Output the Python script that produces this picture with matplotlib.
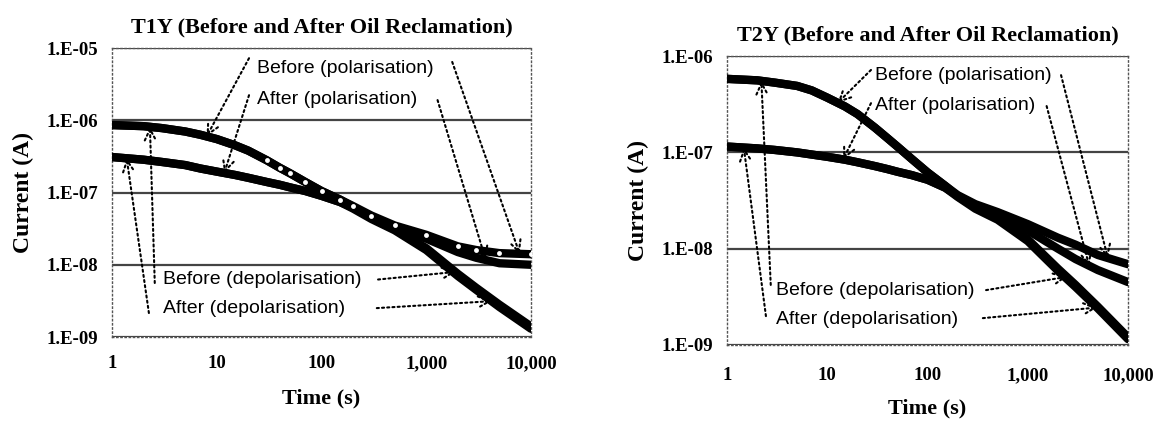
import matplotlib
matplotlib.use("Agg")
import matplotlib.pyplot as plt
import numpy as np
from matplotlib.ticker import FixedLocator, NullLocator

# 时间采样点 (s)
times = [1, 2, 3, 5, 7, 10, 15, 20, 30, 40, 50, 70, 100, 150, 200, 300, 500,
         1000, 2000, 3000, 5000, 10000]

# T1Y 电流 (A)
t1_before_pol = [8.6e-7, 8.3e-7, 7.8e-7, 7.0e-7, 6.3e-7, 5.5e-7, 4.5e-7, 3.8e-7, 2.8e-7,
                 2.2e-7, 1.85e-7, 1.4e-7, 1.05e-7, 8.0e-8, 6.5e-8, 4.8e-8, 3.5e-8,
                 2.6e-8, 1.8e-8, 1.6e-8, 1.45e-8, 1.4e-8]
t1_after_pol = [3.1e-7, 2.85e-7, 2.65e-7, 2.4e-7, 2.15e-7, 1.95e-7, 1.75e-7, 1.6e-7, 1.4e-7,
                1.28e-7, 1.18e-7, 1.05e-7, 9.0e-8, 7.4e-8, 6.2e-8, 4.6e-8, 3.2e-8,
                2.3e-8, 1.5e-8, 1.25e-8, 1.05e-8, 1.0e-8]
t1_before_depol = [8.6e-7, 8.3e-7, 7.8e-7, 7.0e-7, 6.3e-7, 5.5e-7, 4.5e-7, 3.8e-7, 2.8e-7,
                   2.2e-7, 1.85e-7, 1.4e-7, 1.05e-7, 8.0e-8, 6.3e-8, 4.5e-8, 3.1e-8,
                   1.7e-8, 7.5e-9, 4.8e-9, 2.8e-9, 1.4e-9]
t1_after_depol = [3.1e-7, 2.85e-7, 2.65e-7, 2.4e-7, 2.15e-7, 1.95e-7, 1.75e-7, 1.6e-7, 1.4e-7,
                  1.28e-7, 1.18e-7, 1.05e-7, 9.0e-8, 7.4e-8, 6.0e-8, 4.3e-8, 3.0e-8,
                  1.6e-8, 7.0e-9, 4.5e-9, 2.6e-9, 1.3e-9]

# T2Y 电流 (A)
t2_before_pol = [5.8e-7, 5.6e-7, 5.3e-7, 4.9e-7, 4.4e-7, 3.7e-7, 3.0e-7, 2.5e-7, 1.8e-7,
                 1.4e-7, 1.15e-7, 8.5e-8, 6.2e-8, 4.5e-8, 3.6e-8, 2.9e-8, 2.4e-8,
                 1.8e-8, 1.3e-8, 1.1e-8, 8.6e-9, 6.9e-9]
t2_after_pol = [1.15e-7, 1.1e-7, 1.06e-7, 1.0e-7, 9.5e-8, 9.0e-8, 8.4e-8, 7.9e-8, 7.2e-8,
                6.7e-8, 6.3e-8, 5.8e-8, 5.2e-8, 4.3e-8, 3.55e-8, 2.8e-8, 2.2e-8,
                1.55e-8, 1.0e-8, 7.8e-9, 6.0e-9, 4.5e-9]
t2_before_depol = [5.8e-7, 5.6e-7, 5.3e-7, 4.9e-7, 4.4e-7, 3.7e-7, 3.0e-7, 2.5e-7, 1.8e-7,
                   1.4e-7, 1.15e-7, 8.5e-8, 6.2e-8, 4.5e-8, 3.5e-8, 2.7e-8, 2.1e-8,
                   1.25e-8, 6.2e-9, 4.2e-9, 2.5e-9, 1.2e-9]
t2_after_depol = [1.15e-7, 1.1e-7, 1.06e-7, 1.0e-7, 9.5e-8, 9.0e-8, 8.4e-8, 7.9e-8, 7.2e-8,
                  6.7e-8, 6.3e-8, 5.8e-8, 5.2e-8, 4.3e-8, 3.45e-8, 2.6e-8, 2.0e-8,
                  1.2e-8, 5.9e-9, 4.0e-9, 2.4e-9, 1.15e-9]

x_ticks = [1, 10, 100, 1000, 10000]
x_ticklabels = ["1", "10", "100", "1,000", "10,000"]

SERIF = ["Liberation Serif", "DejaVu Serif"]
SANS = ["Liberation Sans Narrow", "Liberation Sans", "DejaVu Sans"]


def curve_at(t, vals):
	return 10 ** np.interp(np.log10(t), np.log10(times), np.log10(vals))


def pointer(ax, start, t, vals):
	ax.annotate(
		"",
		xy=(t, curve_at(t, vals)),
		xycoords="data",
		xytext=start,
		textcoords="axes fraction",
		arrowprops=dict(arrowstyle="->,head_length=0.8,head_width=0.4",
						linestyle=(0, (1, 1.5)), lw=1.5, color="black",
						shrinkA=0, shrinkB=0),
	)


def setup_axes(ax, title, ylim, yticks, yticklabels, xpad, ypad, xlabelpad, ylabelpad):
	ax.set_xscale("log")
	ax.set_yscale("log")
	ax.set_xlim(1, 10000)
	ax.set_ylim(*ylim)
	for y in yticks:
		ax.axhline(y, color="#444444", lw=1.6, zorder=1)
	for sp in ax.spines.values():
		sp.set_linestyle((0, (1, 2)))
		sp.set_color("#555555")
		sp.set_linewidth(1.0)
	ax.xaxis.set_major_locator(FixedLocator(x_ticks))
	ax.xaxis.set_minor_locator(NullLocator())
	ax.set_xticklabels(x_ticklabels)
	ax.yaxis.set_major_locator(FixedLocator(yticks))
	ax.yaxis.set_minor_locator(NullLocator())
	ax.set_yticklabels(yticklabels)
	ax.tick_params(axis="x", length=0, pad=xpad)
	ax.tick_params(axis="y", length=0, pad=ypad)
	for lab in ax.get_xticklabels() + ax.get_yticklabels():
		lab.set_family(SERIF)
		lab.set_fontweight("bold")
		lab.set_fontsize(13.5)
	ax.set_title(title, family=SERIF, fontweight="bold", fontsize=16, pad=11)
	ax.set_xlabel("Time (s)", family=SERIF, fontweight="bold", fontsize=16,
				  labelpad=xlabelpad)
	ax.set_ylabel("Current (A)", family=SERIF, fontweight="bold", fontsize=17,
				  labelpad=ylabelpad)


def draw_curves(ax, curves):
	for vals in curves:
		ax.plot(times, vals, color="black", lw=6, solid_capstyle="round", zorder=3)


fig = plt.figure(figsize=(11.67, 4.23), dpi=100)
ax1 = fig.add_axes([0.096, 0.2033, 0.359, 0.683])
ax2 = fig.add_axes([0.623, 0.1844, 0.3436, 0.683])

# 左图 T1Y
setup_axes(ax1, "T1Y (Before and After Oil Reclamation)", (1e-9, 1e-5),
		   [1e-9, 1e-8, 1e-7, 1e-6, 1e-5],
		   ["1.E-09", "1.E-08", "1.E-07", "1.E-06", "1.E-05"],
		   xpad=13, ypad=10, xlabelpad=12, ylabelpad=9)
draw_curves(ax1, [t1_before_pol, t1_after_pol, t1_before_depol, t1_after_depol])
ax1.plot(times[8:], t1_before_pol[8:], ls="none", marker="o", ms=3.5, mfc="white",
		 mec="white", mew=0, zorder=4)

kw = dict(transform=ax1.transAxes, family=SANS, fontsize=14, va="center", ha="left")
ax1.text(0.346, 0.931, "Before (polarisation)", **kw)
ax1.text(0.346, 0.822, "After (polarisation)", **kw)
ax1.text(0.122, 0.199, "Before (depolarisation)", **kw)
ax1.text(0.122, 0.098, "After (depolarisation)", **kw)
pointer(ax1, (0.327, 0.965), 8, t1_before_pol)
pointer(ax1, (0.812, 0.952), 7800, t1_before_pol)
pointer(ax1, (0.327, 0.837), 11.8, t1_after_pol)
pointer(ax1, (0.777, 0.820), 3700, t1_after_pol)
pointer(ax1, (0.102, 0.187), 2.3, t1_before_depol)
pointer(ax1, (0.635, 0.199), 1900, t1_before_depol)
pointer(ax1, (0.088, 0.083), 1.38, t1_after_depol)
pointer(ax1, (0.632, 0.100), 4200, t1_after_depol)

# 右图 T2Y
setup_axes(ax2, "T2Y (Before and After Oil Reclamation)", (1e-9, 1e-6),
		   [1e-9, 1e-8, 1e-7, 1e-6],
		   ["1.E-09", "1.E-08", "1.E-07", "1.E-06"],
		   xpad=16, ypad=10, xlabelpad=10, ylabelpad=9)
draw_curves(ax2, [t2_before_pol, t2_after_pol, t2_before_depol, t2_after_depol])

kw = dict(transform=ax2.transAxes, family=SANS, fontsize=14, va="center", ha="left")
ax2.text(0.370, 0.934, "Before (polarisation)", **kw)
ax2.text(0.370, 0.830, "After (polarisation)", **kw)
ax2.text(0.123, 0.190, "Before (depolarisation)", **kw)
ax2.text(0.123, 0.087, "After (depolarisation)", **kw)
pointer(ax2, (0.359, 0.952), 12.7, t2_before_pol)
pointer(ax2, (0.833, 0.934), 6300, t2_before_pol)
pointer(ax2, (0.359, 0.837), 14.4, t2_after_pol)
pointer(ax2, (0.797, 0.827), 4100, t2_after_pol)
pointer(ax2, (0.109, 0.208), 2.2, t2_before_depol)
pointer(ax2, (0.646, 0.190), 2450, t2_before_depol)
pointer(ax2, (0.097, 0.100), 1.47, t2_after_depol)
pointer(ax2, (0.638, 0.093), 4900, t2_after_depol)

fig.savefig("out.png", dpi=100)
